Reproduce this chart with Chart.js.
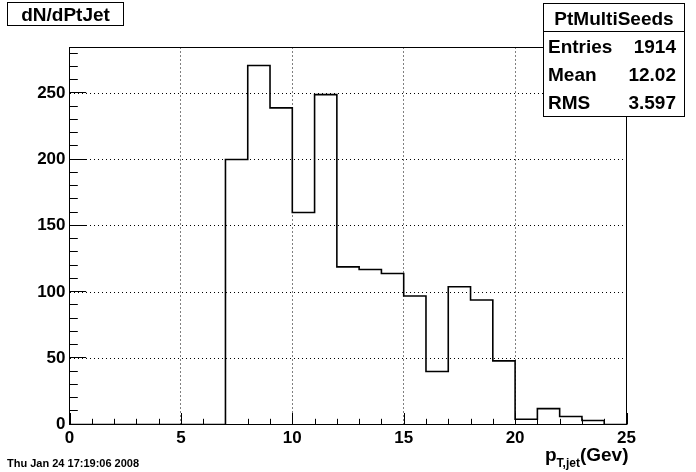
<!DOCTYPE html>
<html>
<head>
<meta charset="utf-8">
<script src="https://cdn.jsdelivr.net/npm/chart.js@4/dist/chart.umd.min.js"></script>
<style>
html,body{margin:0;padding:0;background:#fff;}
#wrap{width:696px;height:472px;position:relative;}
</style>
</head>
<body>
<div id="wrap"><canvas id="c" width="696" height="472"></canvas></div>
<script>
// ---- data ----
const binLow = [0,1,2,3,4,5,6,7,8,9,10,11,12,13,14,15,16,17,18,19,20,21,22,23,24];
const counts = [0,0,0,0,0,0,0,200,271,239,160,249,119,117,114,97,40,104,94,48,4,12,6,3,0];
const xMax = 25;
const xTicksMajor = [0,5,10,15,20,25];
const yTicksMajor = [0,50,100,150,200,250];
const histTitle = 'dN/dPtJet';
const statsName = 'PtMultiSeeds';
const statLabels = ['Entries','Mean','RMS'];
const statValues = ['1914','12.02','3.597'];
const dateText = 'Thu Jan 24 17:19:06 2008';
const yMax = 284.55;

const points = binLow.map((x,i)=>({x:x,y:counts[i]}));
points.push({x:xMax,y:0});

const FONT = '"Liberation Sans", Arial, Helvetica, sans-serif';

const rootDecor = {
  id:'rootDecor',
  afterDraw(chart){
    const ctx = chart.ctx;
    const a = chart.chartArea;
    const xs = chart.scales.x, ys = chart.scales.y;
    ctx.save();
    ctx.strokeStyle = '#000';
    ctx.lineWidth = 1;
    // frame
    ctx.strokeRect(a.left, a.top, a.right-a.left, a.bottom-a.top);
    // x ticks (inside)
    const xMajLen = 11.5, xMinLen = 5.7;
    ctx.beginPath();
    for (let v=0; v<=xMax; v+=1){
      const px = Math.round(xs.getPixelForValue(v))+0.5;
      const len = (v%5===0)?xMajLen:xMinLen;
      ctx.moveTo(px, a.bottom);
      ctx.lineTo(px, a.bottom-len);
    }
    // y ticks (inside)
    const yMajLen = 16.7, yMinLen = 8.3;
    for (let v=0; v<=yMax; v+=10){
      const py = Math.round(ys.getPixelForValue(v))-0.5;
      const len = (v%50===0)?yMajLen:yMinLen;
      ctx.moveTo(a.left, py);
      ctx.lineTo(a.left+len, py);
    }
    ctx.stroke();

    // title box
    ctx.fillStyle='#fff';
    ctx.fillRect(7.5,2.5,116,23);
    ctx.strokeRect(7.5,2.5,116,23);
    ctx.fillStyle='#000';
    ctx.font = 'bold 19px '+FONT;
    ctx.textAlign='center';
    ctx.textBaseline='alphabetic';
    ctx.fillText(histTitle, 65.5, 20.5);

    // stats box
    ctx.fillStyle='#fff';
    ctx.fillRect(543.5,3.5,141,113);
    ctx.strokeRect(543.5,3.5,141,113);
    ctx.beginPath();
    ctx.moveTo(543.5,31.5); ctx.lineTo(684.5,31.5);
    ctx.stroke();
    ctx.fillStyle='#000';
    ctx.font = 'bold 19px '+FONT;
    ctx.textAlign='center';
    ctx.fillText(statsName, 614, 25);
    const rowY=[53,81,109];
    for (let i=0;i<statLabels.length;i++){
      ctx.textAlign='left';
      ctx.fillText(statLabels[i], 548, rowY[i]);
      ctx.textAlign='right';
      ctx.fillText(statValues[i], 676, rowY[i]);
    }

    // axis title p_{T,jet}(Gev)
    ctx.textAlign='left';
    ctx.font = 'bold 19px '+FONT;
    ctx.fillText('p', 545, 461);
    let xx = 545 + ctx.measureText('p').width;
    ctx.font = 'bold 12px '+FONT;
    ctx.fillText('T,jet', xx, 467);
    xx += ctx.measureText('T,jet').width;
    ctx.font = 'bold 19px '+FONT;
    ctx.fillText('(Gev)', xx, 461);

    // date
    ctx.font = 'bold 11px '+FONT;
    ctx.fillText(dateText, 7, 467);
    ctx.restore();
  }
};

new Chart(document.getElementById('c'), {
  type:'line',
  data:{datasets:[{
    data:points,
    borderColor:'#000',
    borderWidth:1.6,
    pointRadius:0,
    fill:false,
    stepped:true,
    tension:0
  }]},
  options:{
    responsive:false,
    animation:false,
    devicePixelRatio:1,
    layout:{padding:{top:47.5,right:69.5,left:0,bottom:0}},
    plugins:{legend:{display:false},tooltip:{enabled:false},title:{display:false}},
    scales:{
      x:{
        type:'linear', min:0, max:xMax,
        afterFit(s){ s.height = 472-424.5; },
        afterBuildTicks(s){ s.ticks = xTicksMajor.map(v=>({value:v})); },
        ticks:{color:'#000',font:{family:FONT,size:17,weight:'bold'},padding:4,maxRotation:0,autoSkip:false},
        grid:{drawTicks:false,lineWidth:1,
          color:(c)=>{const v=c.tick&&c.tick.value; return (v>0&&v<xMax)?'#000':'rgba(0,0,0,0)';}},
        border:{display:false,dash:[1,3]}
      },
      y:{
        type:'linear', min:0, max:yMax,
        afterFit(s){ s.width = 69.5; },
        afterBuildTicks(s){ s.ticks = yTicksMajor.map(v=>({value:v})); },
        ticks:{color:'#000',font:{family:FONT,size:17,weight:'bold'},padding:4,autoSkip:false},
        grid:{drawTicks:false,lineWidth:1,
          color:(c)=>{const v=c.tick&&c.tick.value; return (v>0)?'#000':'rgba(0,0,0,0)';}},
        border:{display:false,dash:[1,3]}
      }
    }
  },
  plugins:[rootDecor]
});
</script>
</body>
</html>
